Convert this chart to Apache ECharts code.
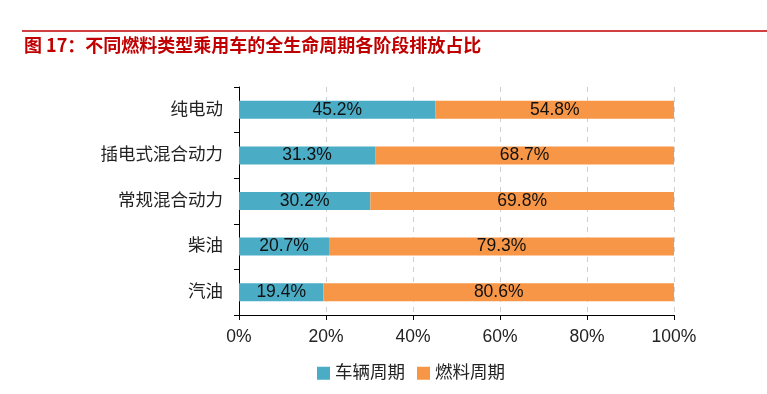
<!DOCTYPE html>
<html><head><meta charset="utf-8">
<script src="https://cdn.jsdelivr.net/npm/echarts@6/dist/echarts.min.js"></script>
<style>html,body{margin:0;padding:0;background:#fff;}#c{width:767px;height:394px;}</style>
</head><body><div id="c"></div>
<script>
var categories = ['纯电动','插电式混合动力','常规混合动力','柴油','汽油'];
var vehicleCycle = [45.2, 31.3, 30.2, 20.7, 19.4];
var fuelCycle = [54.8, 68.7, 69.8, 79.3, 80.6];
var seriesNames = ['车辆周期','燃料周期'];
var xTicks = [0,20,40,60,80,100];

var font = '"Liberation Sans", "Noto Sans CJK SC", sans-serif';
var chart = echarts.init(document.getElementById('c'));
chart.setOption({
  animation:false,
  textStyle:{fontFamily:font},
  graphic:[
    {type:'line',shape:{x1:22,y1:31,x2:767,y2:31},style:{stroke:'#c00000',lineWidth:1.5}},
    {type:'text',left:24,top:36,style:{text:'图 17：不同燃料类型乘用车的全生命周期各阶段排放占比',fill:'#c00000',font:'bold 18px "Noto Sans CJK SC", sans-serif'}}
  ],
  legend:{
    data:seriesNames, bottom:7, left:312, itemWidth:13, itemHeight:13, itemGap:12,
    textStyle:{fontSize:17.5,color:'#222',fontFamily:font}, icon:'rect'
  },
  grid:{left:239,right:93,top:87,bottom:79},
  xAxis:{
    type:'value',min:0,max:100,interval:20,
    axisLine:{show:true,lineStyle:{color:'#000'}},
    axisTick:{show:true,length:5,lineStyle:{color:'#000'}},
    axisLabel:{formatter:function(v){return v+'%';},fontSize:17.5,color:'#222',margin:13},
    splitLine:{show:true,lineStyle:{type:[5,5],color:'#d0d0d0'}}
  },
  yAxis:{
    type:'category',data:categories,inverse:true,
    axisLine:{show:true,lineStyle:{color:'#000'}},
    axisTick:{show:true,length:5,lineStyle:{color:'#000'}},
    axisLabel:{fontSize:17.5,color:'#222',margin:16}
  },
  series:[
    {name:seriesNames[0],type:'bar',stack:'a',data:vehicleCycle,barWidth:18,
     itemStyle:{color:'#4BACC6'},
     label:{show:true,position:'inside',formatter:function(p){return p.value.toFixed(1)+'%';},fontSize:17.5,color:'#111'}},
    {name:seriesNames[1],type:'bar',stack:'a',data:fuelCycle,barWidth:18,
     itemStyle:{color:'#F79646'},
     label:{show:true,position:'inside',formatter:function(p){return p.value.toFixed(1)+'%';},fontSize:17.5,color:'#111'}}
  ]
});
</script></body></html>
